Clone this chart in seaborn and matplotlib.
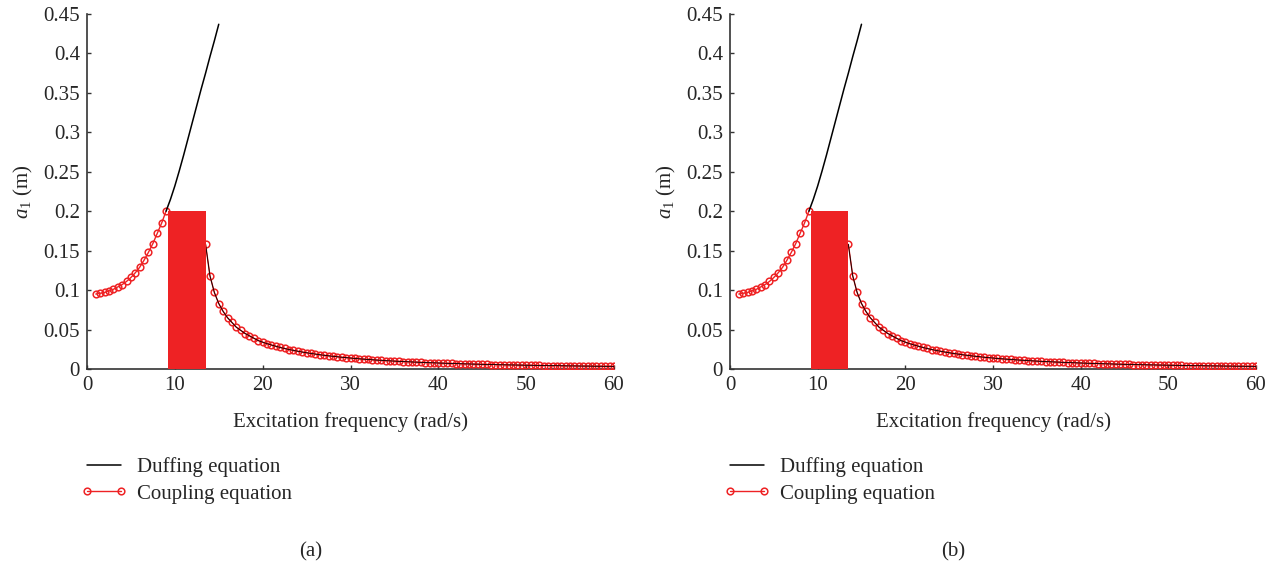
import numpy as np
import pandas as pd
import matplotlib
matplotlib.use("Agg")
import matplotlib.pyplot as plt
from matplotlib.lines import Line2D
import seaborn as sns

# ---------------- data ----------------
coupling_left_x = [1, 1.5, 2, 2.5, 3, 3.5, 4, 4.5, 5, 5.5, 6, 6.5, 7, 7.5, 8, 8.5, 9]
coupling_left_y = [0.095, 0.096, 0.097, 0.099, 0.101, 0.104, 0.107, 0.111, 0.116, 0.122,
                   0.129, 0.138, 0.148, 0.159, 0.172, 0.185, 0.200]

coupling_right_x = [13.5 + 0.5 * i for i in range(94)]
coupling_right_y = [
    0.158, 0.118, 0.097, 0.083, 0.073, 0.065, 0.059, 0.053, 0.049, 0.045,
    0.042, 0.039, 0.036, 0.034, 0.0321, 0.0304, 0.0288, 0.0273, 0.0260, 0.0247,
    0.0236, 0.0225, 0.0215, 0.0206, 0.0197, 0.0189, 0.0181, 0.0174, 0.0167, 0.0161,
    0.0155, 0.0149, 0.0144, 0.0139, 0.0134, 0.0129, 0.0125, 0.0121, 0.0117, 0.0113,
    0.0110, 0.0106, 0.0103, 0.0100, 0.0097, 0.0094, 0.0092, 0.0089, 0.0087, 0.0084,
    0.0082, 0.0080, 0.0078, 0.0076, 0.0074, 0.0072, 0.0070, 0.0069, 0.0067, 0.0065,
    0.0064, 0.0062, 0.0061, 0.0059, 0.0058, 0.0057, 0.0056, 0.0054, 0.0053, 0.0052,
    0.0051, 0.0050, 0.0049, 0.0048, 0.0047, 0.0046, 0.0045, 0.0044, 0.0043, 0.0042,
    0.0042, 0.0041, 0.0040, 0.0039, 0.0039, 0.0038, 0.0037, 0.0037, 0.0036, 0.0035,
    0.0035, 0.0034, 0.0034, 0.0033,
]

duffing_upper_x = [9, 9.5, 10, 10.5, 11, 11.5, 12, 12.5, 13, 13.5, 14, 14.5, 15]
duffing_upper_y = [0.200, 0.215, 0.232, 0.251, 0.271, 0.292, 0.313, 0.334, 0.355,
                   0.375, 0.396, 0.416, 0.437]

band_left = 9.2
band_right = 13.5
band_height = 0.2

x_ticks = [0, 10, 20, 30, 40, 50, 60]
y_ticks = [0, 0.05, 0.1, 0.15, 0.2, 0.25, 0.3, 0.35, 0.4, 0.45]
y_tick_labels = ["0", "0.05", "0.1", "0.15", "0.2", "0.25", "0.3", "0.35", "0.4", "0.45"]
panel_labels = ["(a)", "(b)"]
legend_labels = ["Duffing equation", "Coupling equation"]

# ---------------- style ----------------
sns.set_theme(style="white")
plt.rcParams["font.family"] = ["Liberation Serif", "DejaVu Serif"]
plt.rcParams["mathtext.fontset"] = "custom"
plt.rcParams["mathtext.rm"] = "Liberation Serif"
plt.rcParams["mathtext.it"] = "Liberation Serif:italic"

RED = "#ee2224"
FS = 15

fig = plt.figure(figsize=(12.83, 5.76), dpi=100)
W, H = 1283, 576

panels = [(87, 614), (730, 1256)]
top_px, bottom_px = 14, 369

df_left = pd.DataFrame({"x": coupling_left_x, "y": coupling_left_y})
df_right = pd.DataFrame({"x": coupling_right_x, "y": coupling_right_y})
df_duff = pd.DataFrame({"x": duffing_upper_x, "y": duffing_upper_y})

for (lpx, rpx), plabel in zip(panels, panel_labels):
    ax = fig.add_axes([lpx / W, 1 - bottom_px / H, (rpx - lpx) / W, (bottom_px - top_px) / H])

    mk = dict(marker="o", markersize=4.8, markerfacecolor="none", markeredgecolor=RED,
              markeredgewidth=1.1)
    for d in (df_left, df_right):
        sns.lineplot(data=d, x="x", y="y", ax=ax, color=RED, linewidth=1.0,
                     estimator=None, sort=False, legend=False, zorder=3, **mk)
    sns.lineplot(data=df_right, x="x", y="y", ax=ax, color="black", linewidth=0.6,
                 estimator=None, sort=False, legend=False, zorder=4)
    sns.lineplot(data=df_duff, x="x", y="y", ax=ax, color="black", linewidth=1.1,
                 estimator=None, sort=False, legend=False, zorder=4)

    ax.bar([(band_left + band_right) / 2], [band_height], width=band_right - band_left,
           color=RED, edgecolor="none", zorder=5)

    ax.set_xlim(0, 60)
    ax.set_ylim(0, 0.45)
    ax.set_xticks(x_ticks)
    ax.set_xticklabels([str(t) for t in x_ticks], fontsize=FS)
    ax.set_yticks(y_ticks)
    ax.set_yticklabels(y_tick_labels, fontsize=FS)
    ax.tick_params(axis="both", which="both", direction="in", length=3, width=1,
                   color="#333333", left=True, bottom=True, pad=5)
    for s in ("top", "right"):
        ax.spines[s].set_visible(False)
    for s in ("left", "bottom"):
        ax.spines[s].set_color("#333333")
        ax.spines[s].set_linewidth(1.2)

    ax.set_xlabel("Excitation frequency (rad/s)", fontsize=FS, labelpad=12)
    ax.set_ylabel(r"$a_1$ (m)", fontsize=FS, labelpad=6)
    ax.set_facecolor("white")

    handles = [
        Line2D([], [], color="black", linewidth=1.1),
        Line2D([], [], color=RED, linewidth=1.0, **mk),
    ]
    ax.legend(handles, legend_labels, loc="upper left", numpoints=2,
              bbox_to_anchor=((lpx - 6) / W, 1 - 457 / H), bbox_transform=fig.transFigure,
              frameon=False, fontsize=FS, handlelength=2.2, handletextpad=0.5,
              labelspacing=0.35, borderpad=0, borderaxespad=0)

    fig.text(((lpx + rpx) / 2 - 40) / W, 1 - 552 / H, plabel, ha="center", va="center",
             fontsize=FS)

fig.savefig("out.png", dpi=100, facecolor="white")
